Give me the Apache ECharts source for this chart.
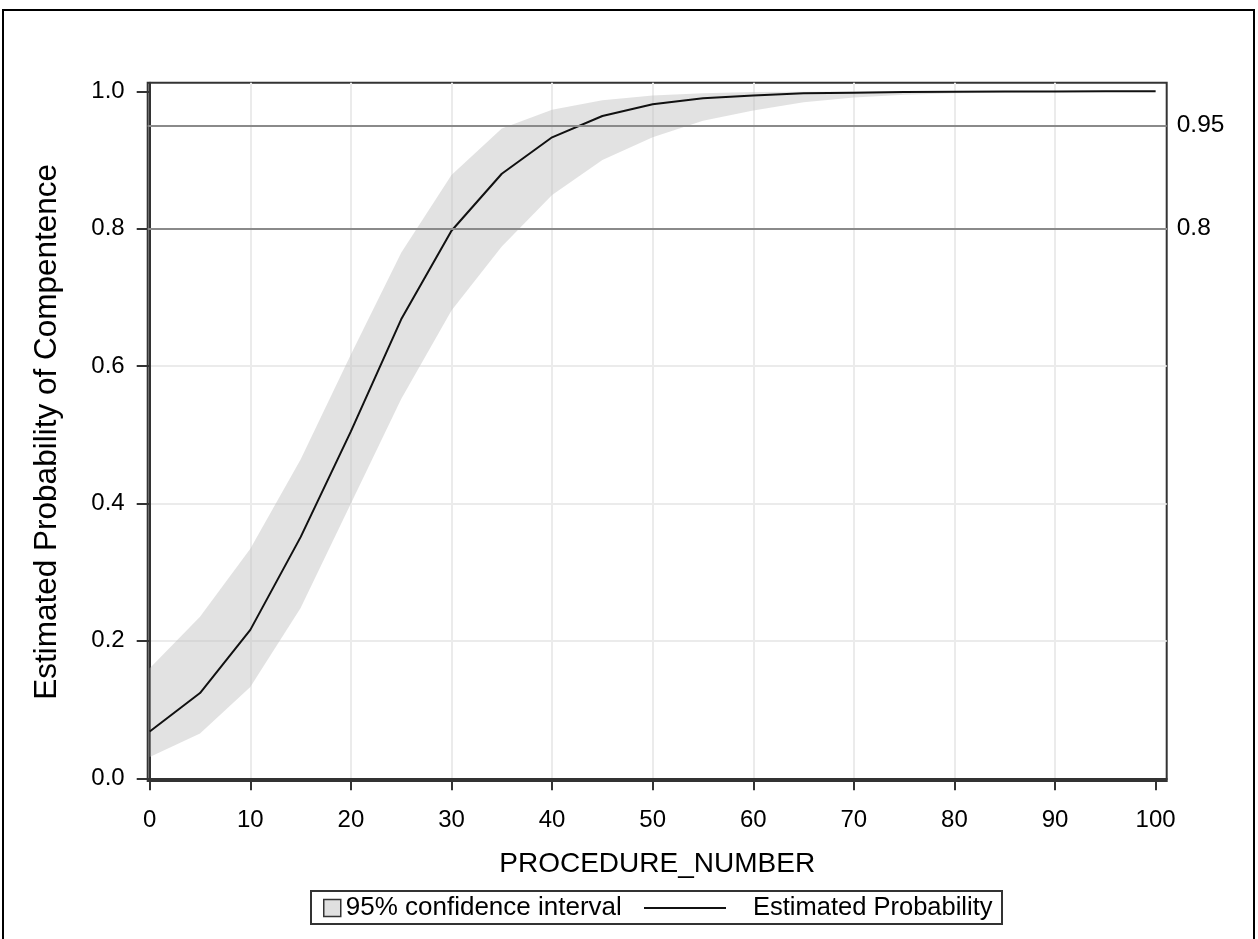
<!DOCTYPE html>
<html>
<head>
<meta charset="utf-8">
<script src="https://cdn.jsdelivr.net/npm/echarts@6/dist/echarts.min.js"></script>
<style>
html,body{margin:0;padding:0;background:#fff;}
#chart{width:1258px;height:939px;}
</style>
</head>
<body>
<div id="chart"></div>
<script>
// ---- data ----
const procedureNumber = [0, 5, 10, 15, 20, 25, 30, 35, 40, 45, 50, 55, 60, 65, 70, 75, 80, 85, 90, 95, 100];
const estimatedProb = [0.068, 0.124, 0.216, 0.351, 0.505, 0.668, 0.797, 0.880, 0.933, 0.964, 0.981, 0.990, 0.994, 0.997, 0.998, 0.999, 0.9995, 0.9997, 0.9998, 0.9999, 1.0];
const upperCI = [0.160, 0.235, 0.334, 0.464, 0.617, 0.765, 0.878, 0.946, 0.973, 0.987, 0.994, 0.997, 0.999, 0.9995, 0.9998, 0.9999, 1.0, 1.0, 1.0, 1.0, 1.0];
const lowerCI = [0.031, 0.065, 0.133, 0.248, 0.400, 0.552, 0.681, 0.774, 0.849, 0.900, 0.933, 0.957, 0.972, 0.984, 0.991, 0.995, 0.997, 0.998, 0.999, 0.9995, 0.9997];
const xTicks = [0, 10, 20, 30, 40, 50, 60, 70, 80, 90, 100];
const yTicks = [0, 0.2, 0.4, 0.6, 0.8, 1.0];
const refLines = [0.95, 0.8];
const xTitle = 'PROCEDURE_NUMBER';
const yTitle = 'Estimated Probability of Compentence';
const bandName = '95% confidence interval';
const lineName = 'Estimated Probability';

const FONT = '"Liberation Sans", Arial, Helvetica, sans-serif';
const chart = echarts.init(document.getElementById('chart'), null, {renderer: 'canvas'});

const option = {
  animation: false,
  backgroundColor: '#fff',
  textStyle: {fontFamily: FONT, color: '#000'},
  grid: {
    left: 147.7, right: 91.3, top: 82.7, bottom: 158,
    show: true, borderColor: '#333', borderWidth: 2, backgroundColor: 'transparent'
  },
  xAxis: {
    type: 'value', min: -0.2, max: 101.1,
    name: xTitle, nameLocation: 'middle', nameGap: 69,
    nameTextStyle: {fontSize: 28, color: '#000', fontFamily: FONT},
    axisLine: {show: true, lineStyle: {color: '#333', width: 2}},
    axisTick: {show: true, customValues: xTicks, length: 12, lineStyle: {color: '#333', width: 2}},
    axisLabel: {customValues: xTicks, fontSize: 24, color: '#000', margin: 27, fontFamily: FONT},
    splitLine: {show: true, showMinLine: false, showMaxLine: false, lineStyle: {color: '#ebebeb', width: 2}}
  },
  yAxis: {
    type: 'value', min: -0.004, max: 1.0125,
    name: yTitle, nameLocation: 'middle', nameGap: 84,
    nameTextStyle: {fontSize: 31.5, color: '#000', fontFamily: FONT},
    axisLine: {show: true, lineStyle: {color: '#333', width: 2}},
    axisTick: {show: true, customValues: yTicks, length: 13, lineStyle: {color: '#333', width: 2}},
    axisLabel: {customValues: yTicks, fontSize: 24, color: '#000', margin: 23, fontFamily: FONT,
      formatter: v => Number(v).toFixed(1)},
    splitLine: {show: true, showMinLine: false, showMaxLine: false, lineStyle: {color: '#ebebeb', width: 2}}
  },
  legend: [
    {
      data: [{name: bandName, icon: 'rect', itemStyle: {color: '#e0e0e0', borderColor: '#333', borderWidth: 1.5}}],
      left: 323, top: 895, padding: 0, itemWidth: 17, itemHeight: 17, itemGap: 0,
      textStyle: {fontSize: 26, color: '#000', fontFamily: FONT},
      selectedMode: false
    },
    {
      data: [{name: lineName, icon: 'rect', itemStyle: {color: '#111', borderWidth: 0}}],
      left: 644, top: 895, padding: 0, itemWidth: 82, itemHeight: 2, itemGap: 0,
      symbolKeepAspect: false,
      textStyle: {fontSize: 25.5, color: '#000', fontFamily: FONT, padding: [0, 0, 0, 22]},
      selectedMode: false
    }
  ],
  graphic: [
    {type: 'rect', silent: true, shape: {x: 3, y: 10, width: 1251, height: 1000},
      style: {fill: 'none', stroke: '#000', lineWidth: 2}},
    {type: 'rect', silent: true, shape: {x: 311, y: 891, width: 691, height: 33},
      style: {fill: 'none', stroke: '#333', lineWidth: 2}}
  ],
  series: [
    {
      name: bandName,
      type: 'custom',
      z: 1,
      silent: true,
      itemStyle: {color: '#e0e0e0'},
      data: [[procedureNumber[0], lowerCI[0]]],
      renderItem: function (params, api) {
        const pts = [];
        for (let i = 0; i < procedureNumber.length; i++) pts.push(api.coord([procedureNumber[i], upperCI[i]]));
        for (let i = procedureNumber.length - 1; i >= 0; i--) pts.push(api.coord([procedureNumber[i], lowerCI[i]]));
        return {type: 'polygon', shape: {points: pts}, style: {fill: 'rgba(190,190,190,0.45)'}};
      }
    },
    {
      name: lineName,
      type: 'line',
      z: 3,
      symbol: 'none',
      showSymbol: false,
      lineStyle: {color: '#111', width: 2},
      itemStyle: {color: '#111'},
      data: procedureNumber.map((x, i) => [x, estimatedProb[i]]),
      markLine: {
        silent: true,
        symbol: 'none',
        lineStyle: {color: '#8a8a8a', width: 2, type: 'solid'},
        label: {show: true, position: 'end', distance: 10, fontSize: 24.5, color: '#000', fontFamily: FONT,
          formatter: p => String(p.value)},
        emphasis: {disabled: true},
        data: refLines.map(v => ({yAxis: v}))
      }
    }
  ]
};
chart.setOption(option);
</script>
</body>
</html>
